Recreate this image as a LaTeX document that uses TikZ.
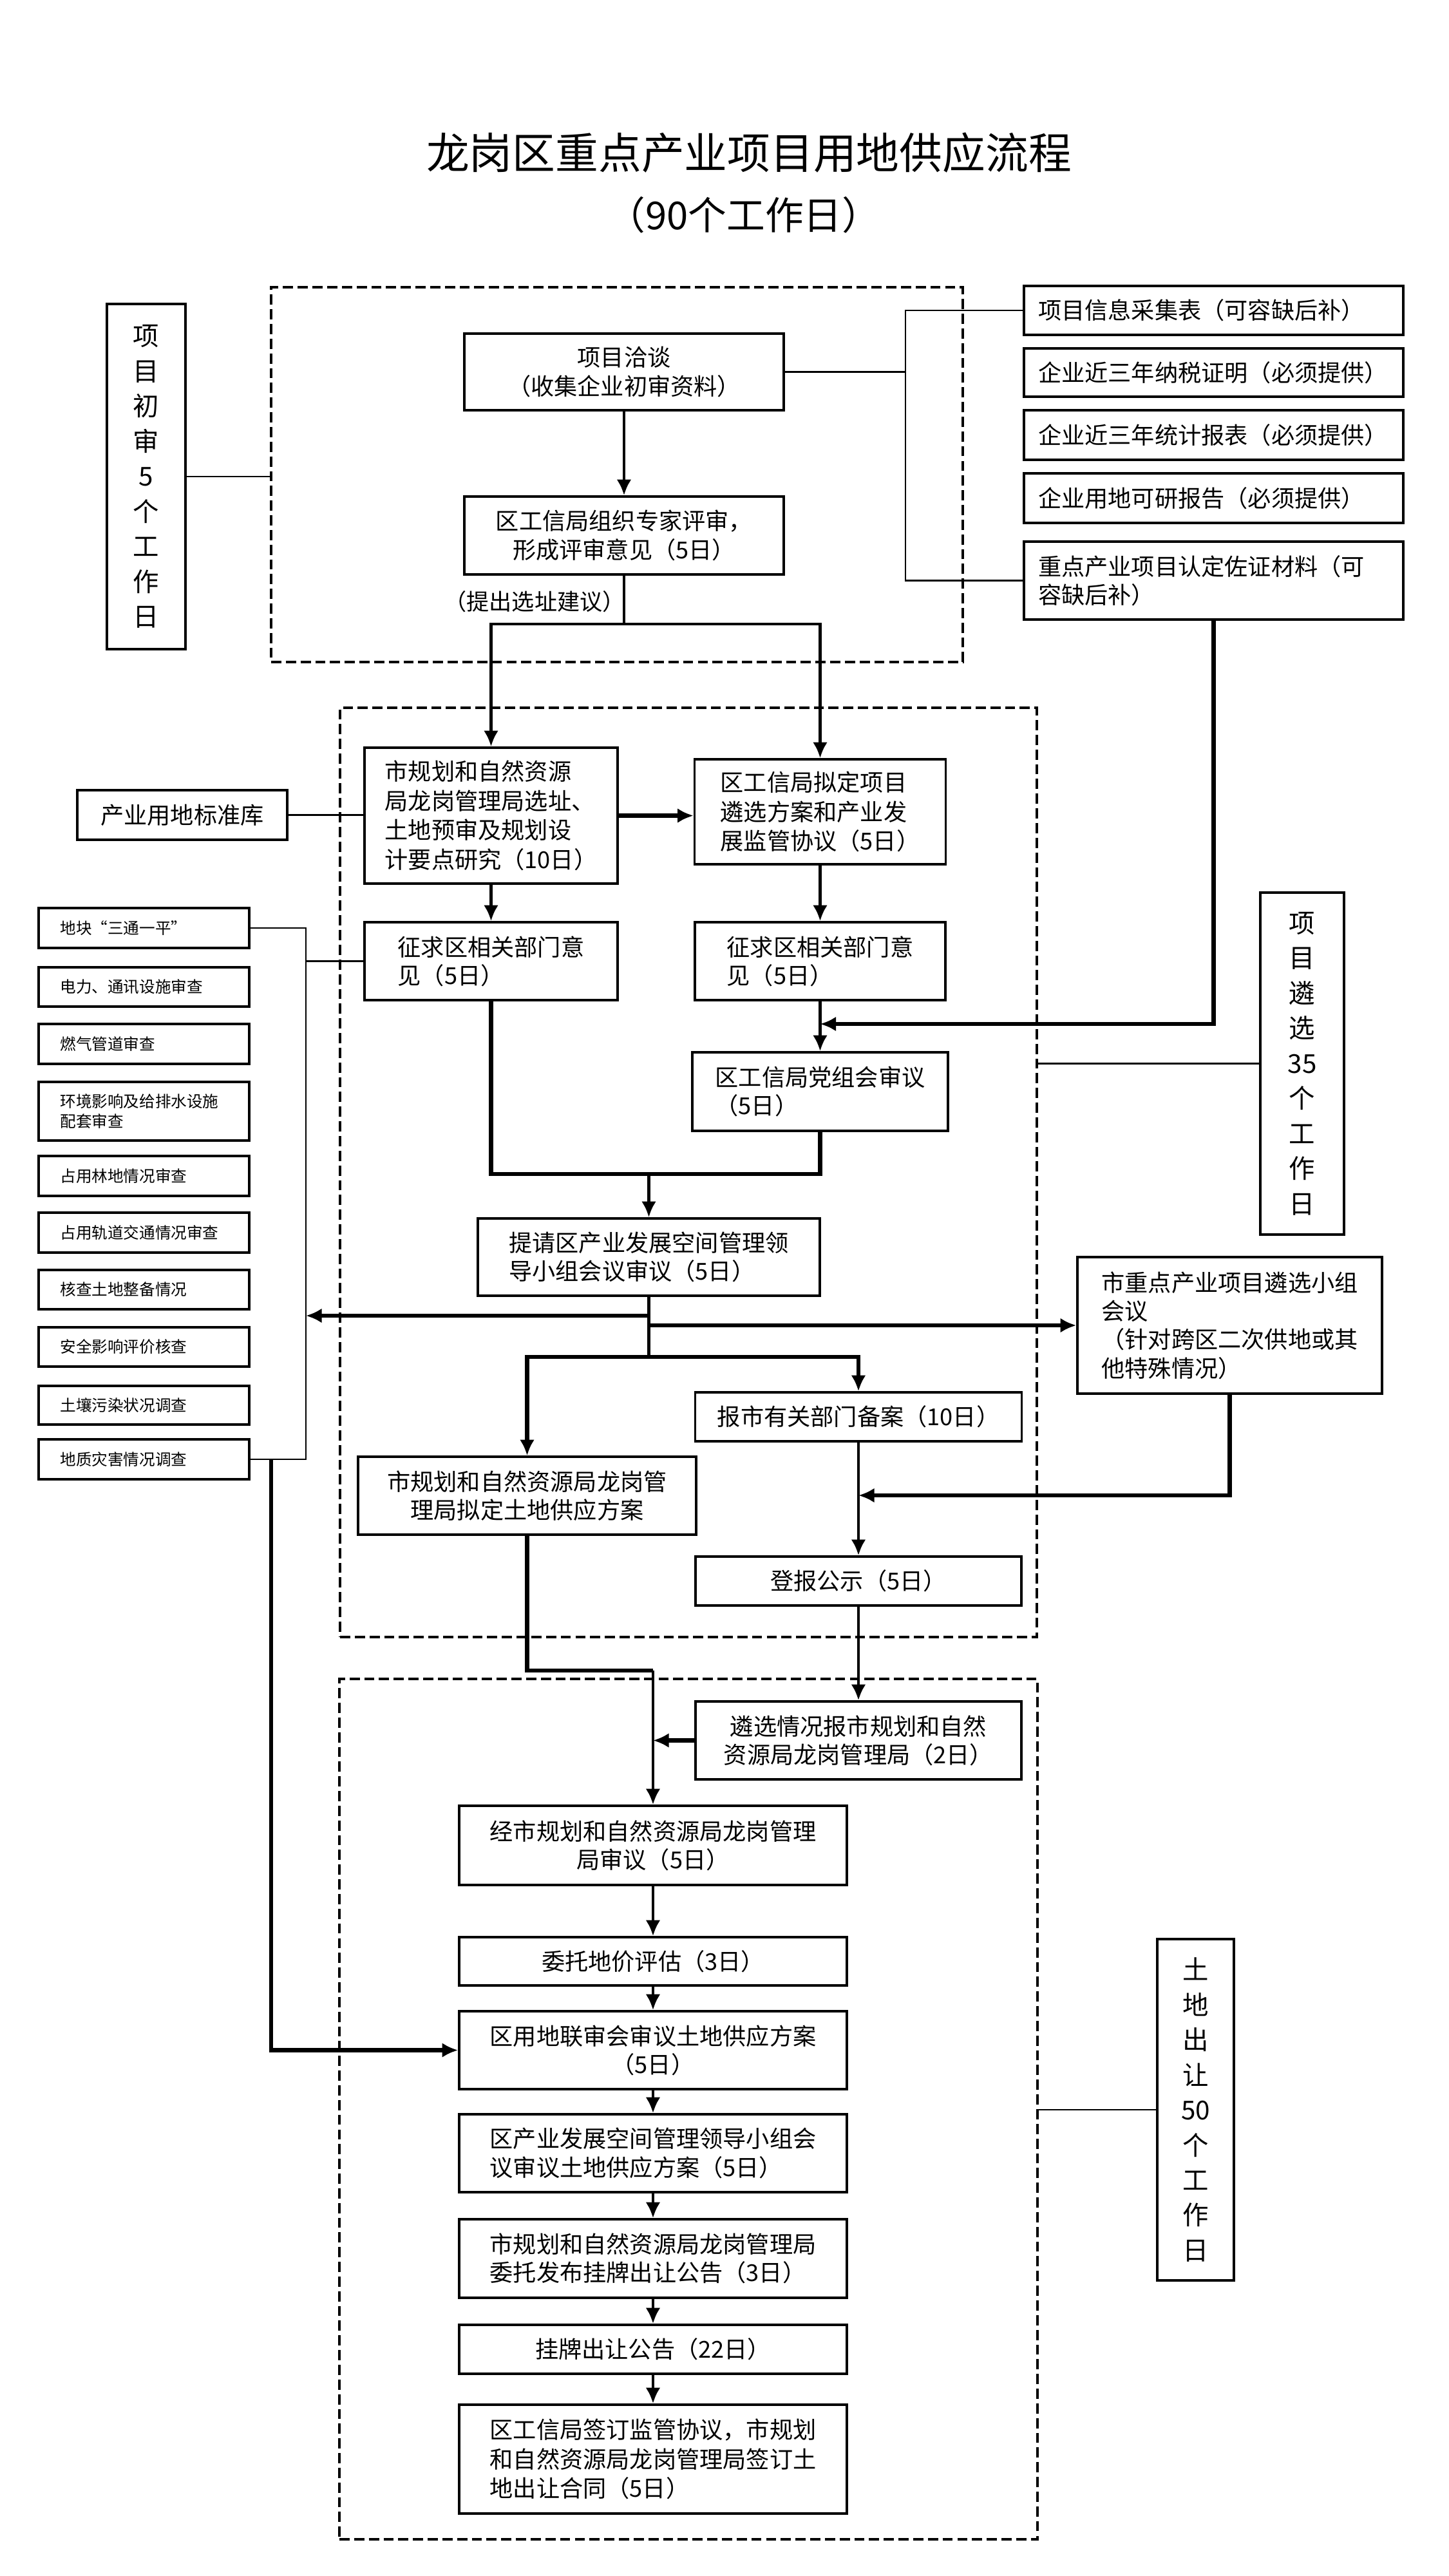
\documentclass[tikz,border=0pt]{standalone}
\usepackage{fontspec}
\setmainfont{Noto Sans CJK SC}
\usetikzlibrary{arrows.meta,calc}
\begin{document}
\begin{tikzpicture}[
  sz/.style 2 args={minimum width=#1cm,minimum height=#2cm},
  box/.style={draw,line width=1pt,inner sep=2pt,font=\fontsize{10.3pt}{12.6pt}\selectfont},
  lbox/.style={box,align=left},
  cbox/.style={box,align=center},
  chk/.style={draw,line width=1pt,minimum width=3.27cm,text width=2.6cm,inner xsep=0.335cm,inner ysep=1pt,align=left,font=\fontsize{7pt}{8.6pt}\selectfont},
  side/.style={draw,line width=1pt,minimum width=5.89cm,text width=5.45cm,inner xsep=0.22cm,inner ysep=1pt,align=left,font=\fontsize{10.3pt}{12.6pt}\selectfont},
  vbox/.style={draw,line width=1pt,align=center,inner sep=1pt,font=\fontsize{11.5pt}{15.5pt}\selectfont},
  dbox/.style={draw,line width=1.2pt,dash pattern=on 4.5pt off 2pt},
  ln/.style={line width=1.4pt},
  thk/.style={line width=1.9pt},
  thin/.style={line width=0.8pt},
  arr/.style={line width=1.4pt,-{Latex[length=7pt,width=6.5pt]}}
]
\fill[white] (0,0) rectangle (22.5,-40);
\useasboundingbox (0,0) rectangle (22.5,-40);

% titles
\node[font=\fontsize{19pt}{22pt}\selectfont] (title) at (11.63,-2.37) {龙岗区重点产业项目用地供应流程};
\node[font=\fontsize{17pt}{20pt}\selectfont] (subtitle) at (11.55,-3.34) {（90个工作日）};

% ---------- stage 1 ----------
\node[dbox,sz={10.74}{5.82}] (d1) at (9.58,-7.37) {};
\node[vbox,sz={1.22}{5.36}] (stA) at (2.27,-7.40) {项\\目\\初\\审\\5\\个\\工\\作\\日};
\node[cbox,sz={4.96}{1.19}] (nB) at (9.69,-5.775) {项目洽谈\\（收集企业初审资料）};
\node[cbox,sz={4.96}{1.21}] (nC) at (9.69,-8.315) {区工信局组织专家评审，\\形成评审意见（5日）};
\node[font=\fontsize{10pt}{12pt}\selectfont] (lab) at (8.30,-9.34) {（提出选址建议）};

\node[side,minimum height=0.76cm] (r1) at (18.845,-4.82) {项目信息采集表（可容缺后补）};
\node[side,minimum height=0.75cm] (r2) at (18.845,-5.785) {企业近三年纳税证明（必须提供）};
\node[side,minimum height=0.77cm] (r3) at (18.845,-6.755) {企业近三年统计报表（必须提供）};
\node[side,minimum height=0.77cm] (r4) at (18.845,-7.735) {企业用地可研报告（必须提供）};
\node[side,minimum height=1.21cm] (r5) at (18.845,-9.015) {重点产业项目认定佐证材料（可\\容缺后补）};

% ---------- stage 2 ----------
\node[dbox,sz={10.82}{14.43}] (d2) at (10.69,-18.205) {};
\node[lbox,sz={3.93}{2.11},font=\fontsize{10.3pt}{13pt}\selectfont] (nD) at (7.625,-12.665) {市规划和自然资源\\局龙岗管理局选址、\\土地预审及规划设\\计要点研究（10日）};
\node[lbox,sz={3.90}{1.63},font=\fontsize{10.3pt}{13pt}\selectfont] (nE) at (12.735,-12.605) {区工信局拟定项目\\遴选方案和产业发\\展监管协议（5日）};
\node[cbox,sz={3.26}{0.77}] (nF) at (2.83,-12.655) {产业用地标准库};
\node[lbox,sz={3.93}{1.21}] (nG) at (7.625,-14.925) {征求区相关部门意\\见（5日）};
\node[lbox,sz={3.89}{1.21}] (nH) at (12.735,-14.925) {征求区相关部门意\\见（5日）};
\node[lbox,sz={3.97}{1.22}] (nI) at (12.735,-16.95) {区工信局党组会审议\\（5日）};
\node[lbox,sz={5.31}{1.20}] (nJ) at (10.075,-19.52) {提请区产业发展空间管理领\\导小组会议审议（5日）};
\node[vbox,sz={1.30}{5.31}] (stK) at (20.22,-16.515) {项\\目\\遴\\选\\35\\个\\工\\作\\日};
\node[lbox,sz={4.73}{2.12}] (nL) at (19.095,-20.58) {市重点产业项目遴选小组\\会议\\（针对跨区二次供地或其\\他特殊情况）};
\node[cbox,sz={5.07}{0.76}] (nM) at (13.33,-22.00) {报市有关部门备案（10日）};
\node[cbox,sz={5.25}{1.21}] (nN) at (8.185,-23.225) {市规划和自然资源局龙岗管\\理局拟定土地供应方案};
\node[cbox,sz={5.06}{0.76}] (nO) at (13.33,-24.55) {登报公示（5日）};

% left check list
\node[chk,minimum height=0.62cm] (c1) at (2.235,-14.41) {地块“三通一平”};
\node[chk,minimum height=0.61cm] (c2) at (2.235,-15.325) {电力、通讯设施审查};
\node[chk,minimum height=0.62cm] (c3) at (2.235,-16.21) {燃气管道审查};
\node[chk,minimum height=0.91cm] (c4) at (2.235,-17.255) {环境影响及给排水设施\\配套审查};
\node[chk,minimum height=0.62cm] (c5) at (2.235,-18.26) {占用林地情况审查};
\node[chk,minimum height=0.62cm] (c6) at (2.235,-19.14) {占用轨道交通情况审查};
\node[chk,minimum height=0.61cm] (c7) at (2.235,-20.025) {核查土地整备情况};
\node[chk,minimum height=0.61cm] (c8) at (2.235,-20.915) {安全影响评价核查};
\node[chk,minimum height=0.60cm] (c9) at (2.235,-21.82) {土壤污染状况调查};
\node[chk,minimum height=0.62cm] (c10) at (2.235,-22.66) {地质灾害情况调查};

% ---------- stage 3 ----------
\node[dbox,sz={10.84}{13.36}] (d3) at (10.69,-32.75) {};
\node[cbox,sz={5.06}{1.21}] (nQ) at (13.33,-27.025) {遴选情况报市规划和自然\\资源局龙岗管理局（2日）};
\node[cbox,sz={6.02}{1.23}] (nP) at (10.14,-28.655) {经市规划和自然资源局龙岗管理\\局审议（5日）};
\node[cbox,sz={6.02}{0.75}] (nR) at (10.14,-30.455) {委托地价评估（3日）};
\node[cbox,sz={6.02}{1.21}] (nS) at (10.14,-31.835) {区用地联审会审议土地供应方案\\（5日）};
\node[lbox,sz={6.02}{1.21}] (nT) at (10.14,-33.435) {区产业发展空间管理领导小组会\\议审议土地供应方案（5日）};
\node[lbox,sz={6.02}{1.22}] (nU) at (10.14,-35.07) {市规划和自然资源局龙岗管理局\\委托发布挂牌出让公告（3日）};
\node[cbox,sz={6.02}{0.76}] (nV) at (10.14,-36.48) {挂牌出让公告（22日）};
\node[lbox,sz={6.02}{1.69},font=\fontsize{10.3pt}{13pt}\selectfont] (nW) at (10.14,-38.185) {区工信局签订监管协议，市规划\\和自然资源局龙岗管理局签订土\\地出让合同（5日）};
\node[vbox,sz={1.19}{5.30}] (stX) at (18.565,-32.76) {土\\地\\出\\让\\50\\个\\工\\作\\日};

% ---------- coordinates ----------
\coordinate (sp1) at (9.69,-9.69);
\coordinate (rb) at (14.06,-5.775);
\coordinate (hi) at (12.735,-15.90);
\coordinate (mg) at (10.075,-18.23);
\coordinate (bk) at (4.75,-14.925);
\coordinate (j1) at (10.075,-20.43);
\coordinate (j2) at (10.075,-20.58);
\coordinate (j3) at (10.075,-21.07);
\coordinate (mo) at (13.33,-23.22);
\coordinate (np) at (10.14,-25.94);
\coordinate (lb) at (4.21,-22.66);

% ---------- connectors ----------
\draw[thin] (stA.east) -- (stA.east -| d1.west);
\draw[arr] (nB) -- (nC);
\draw[ln] (nC.south) -- (sp1);
\draw[arr] (sp1) -| (nD.north);
\draw[arr] (sp1) -| (nE.north);
\draw[thin] (nB.east) -- (rb);
\draw[thin] (r1.west) -- (r1.west -| rb) -- (r5.west -| rb) -- (r5.west);

\draw[arr,thk] (nD.east) -- (nD.east -| nE.west);
\draw[thin] (nF.east) -- (nF.east -| nD.west);
\draw[arr] (nD.south) -- (nG.north);
\draw[arr] (nE.south) -- (nH.north);
\draw[arr] (nH.south) -- (nI.north);
\draw[arr,thk] (r5.south) |- (hi);
\draw[ln,thk] (nG.south) |- (mg) -| (nI.south);
\draw[arr] (mg) -- (nJ.north);
\draw[thin] (stK.west) -- (stK.west -| d2.east);

\draw[thin] (c1.east) -| (bk) -- (nG.west);
\draw[thin] (bk) |- (c10.east);

\draw[ln] (nJ.south) -- (j3);
\draw[arr,thk] (j1) -- (j1 -| bk);
\draw[arr,thk] (j2) -- (nL.west);
\draw[arr,thk] (j3) -| (nN.north);
\draw[arr,thk] (j3) -| (nM.north);
\draw[arr] (nM.south) -- (nO.north);
\draw[arr,thk] (nL.south) |- (mo);

\draw[arr] (nO.south) -- (nQ.north);
\draw[ln,thk] (nN.south) |- (np);
\draw[arr] (np) -- (nP.north);
\draw[arr,thk] (nQ.west) -- (nQ.west -| nP.north);
\draw[arr] (nP) -- (nR);
\draw[arr] (nR) -- (nS);
\draw[arr] (nS) -- (nT);
\draw[arr] (nT) -- (nU);
\draw[arr] (nU) -- (nV);
\draw[arr] (nV) -- (nW);
\draw[arr,thk] (lb) |- (nS.west);
\draw[thin] (stX.west) -- (stX.west -| d3.east);
\end{tikzpicture}
\end{document}
